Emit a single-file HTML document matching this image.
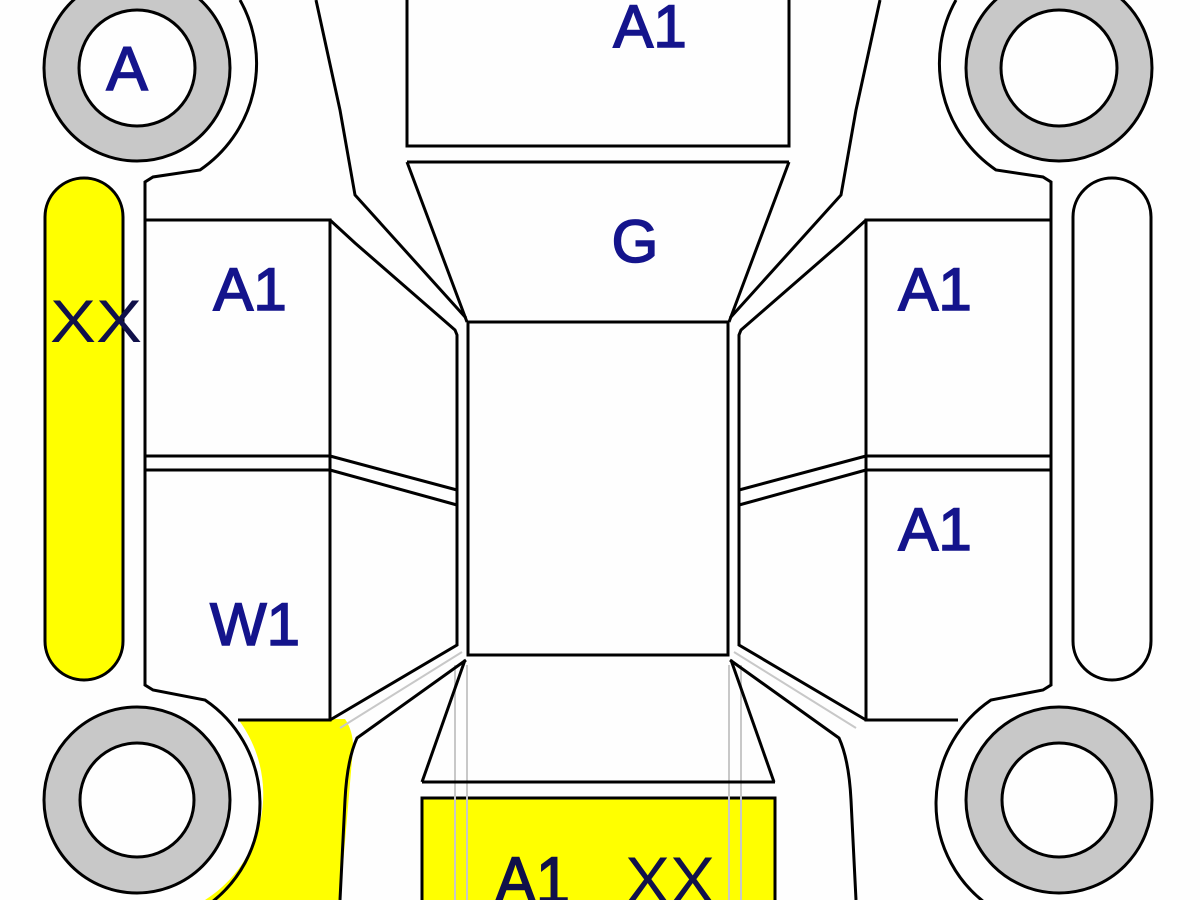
<!DOCTYPE html>
<html><head><meta charset="utf-8"><style>
html,body{margin:0;padding:0;background:#fff;}
svg{display:block;}
text{font-family:"Liberation Sans",sans-serif;fill:#14148c;stroke:#14148c;stroke-width:1.6;}
</style></head><body>
<svg width="1200" height="900" viewBox="0 0 1200 900" xmlns="http://www.w3.org/2000/svg">
<rect width="1200" height="900" fill="#fefefe"/>
<rect x="45" y="178" width="78" height="502" rx="39" fill="#ffff00" stroke="#000" stroke-width="3"/>
<path d="M238,719 L345,719 Q356,735 352,760 L340,900 L205,900 A125,125 0 0 0 238,719 Z" fill="#ffff00"/>
<rect x="422" y="798" width="353" height="110" fill="#ffff00" stroke="#000" stroke-width="3"/>
<g stroke="#c8c8c8" stroke-width="2" fill="none">
<line x1="455" y1="665" x2="455" y2="900"/><line x1="467" y1="665" x2="467" y2="900"/>
<line x1="729" y1="665" x2="729" y2="900"/><line x1="741" y1="665" x2="741" y2="900"/>
<line x1="340" y1="728" x2="462" y2="652"/><line x1="856" y1="728" x2="734" y2="652"/>
</g>
<g id="half" stroke="#000" stroke-width="3" fill="none">
<circle cx="137" cy="68" r="93" fill="#c8c8c8"/>
<circle cx="137" cy="68" r="58" fill="#fefefe"/>
<circle cx="137" cy="800" r="93" fill="#c8c8c8"/>
<circle cx="137" cy="800" r="57" fill="#fefefe"/>
<path d="M240,0 A129,129 0 0 1 200,170 L153,177 L145,182 L145,685 L153,690 L205,700 A125,125 0 0 1 208,905"/>
<path d="M145,220 L330,220 L330,720 L238,720"/>
<line x1="145" y1="456" x2="330" y2="456"/>
<line x1="145" y1="470" x2="330" y2="470"/>
<line x1="330" y1="456" x2="457" y2="490"/>
<line x1="330" y1="470" x2="457" y2="505"/>
<path d="M316,0 L340,110 L355,195 L466,318"/>
<path d="M330,220 L355,243 L455,330 L457,335 L457,645 L330,720"/>
<path d="M466,660 L357,738 Q347,760 345,800 L340,900"/>
<line x1="407" y1="162" x2="467" y2="322"/>
<line x1="465" y1="660" x2="422" y2="782"/>
</g>
<use href="#half" transform="translate(1196,0) scale(-1,1)"/>
<rect x="1073" y="178" width="78" height="502" rx="39" fill="none" stroke="#000" stroke-width="3"/>
<g stroke="#000" stroke-width="3" fill="none">
<path d="M407,0 L407,146 L789,146 L789,0"/>
<line x1="407" y1="162" x2="789" y2="162"/>
<rect x="468" y="322" width="260" height="333"/>
<line x1="422" y1="782" x2="775" y2="782"/>
</g>
<text x="127" y="90" font-size="62" text-anchor="middle">A</text>
<text x="650" y="47" font-size="60" text-anchor="middle">A1</text>
<text x="635" y="262" font-size="60" text-anchor="middle">G</text>
<text x="250" y="310" font-size="60" text-anchor="middle">A1</text>
<text x="255" y="645" font-size="60" text-anchor="middle">W1</text>
<text x="935" y="310" font-size="60" text-anchor="middle">A1</text>
<text x="935" y="550" font-size="60" text-anchor="middle">A1</text>
<text x="50" y="342" font-size="60" textLength="92" lengthAdjust="spacingAndGlyphs" style="fill:#10104a;stroke:none">XX</text>
<text x="495" y="903" font-size="66" textLength="75" lengthAdjust="spacingAndGlyphs" style="fill:#10104a;stroke:#10104a">A1</text>
<text x="625" y="903" font-size="66" textLength="90" lengthAdjust="spacingAndGlyphs" style="fill:#10104a;stroke:none">XX</text>
</svg>
</body></html>
